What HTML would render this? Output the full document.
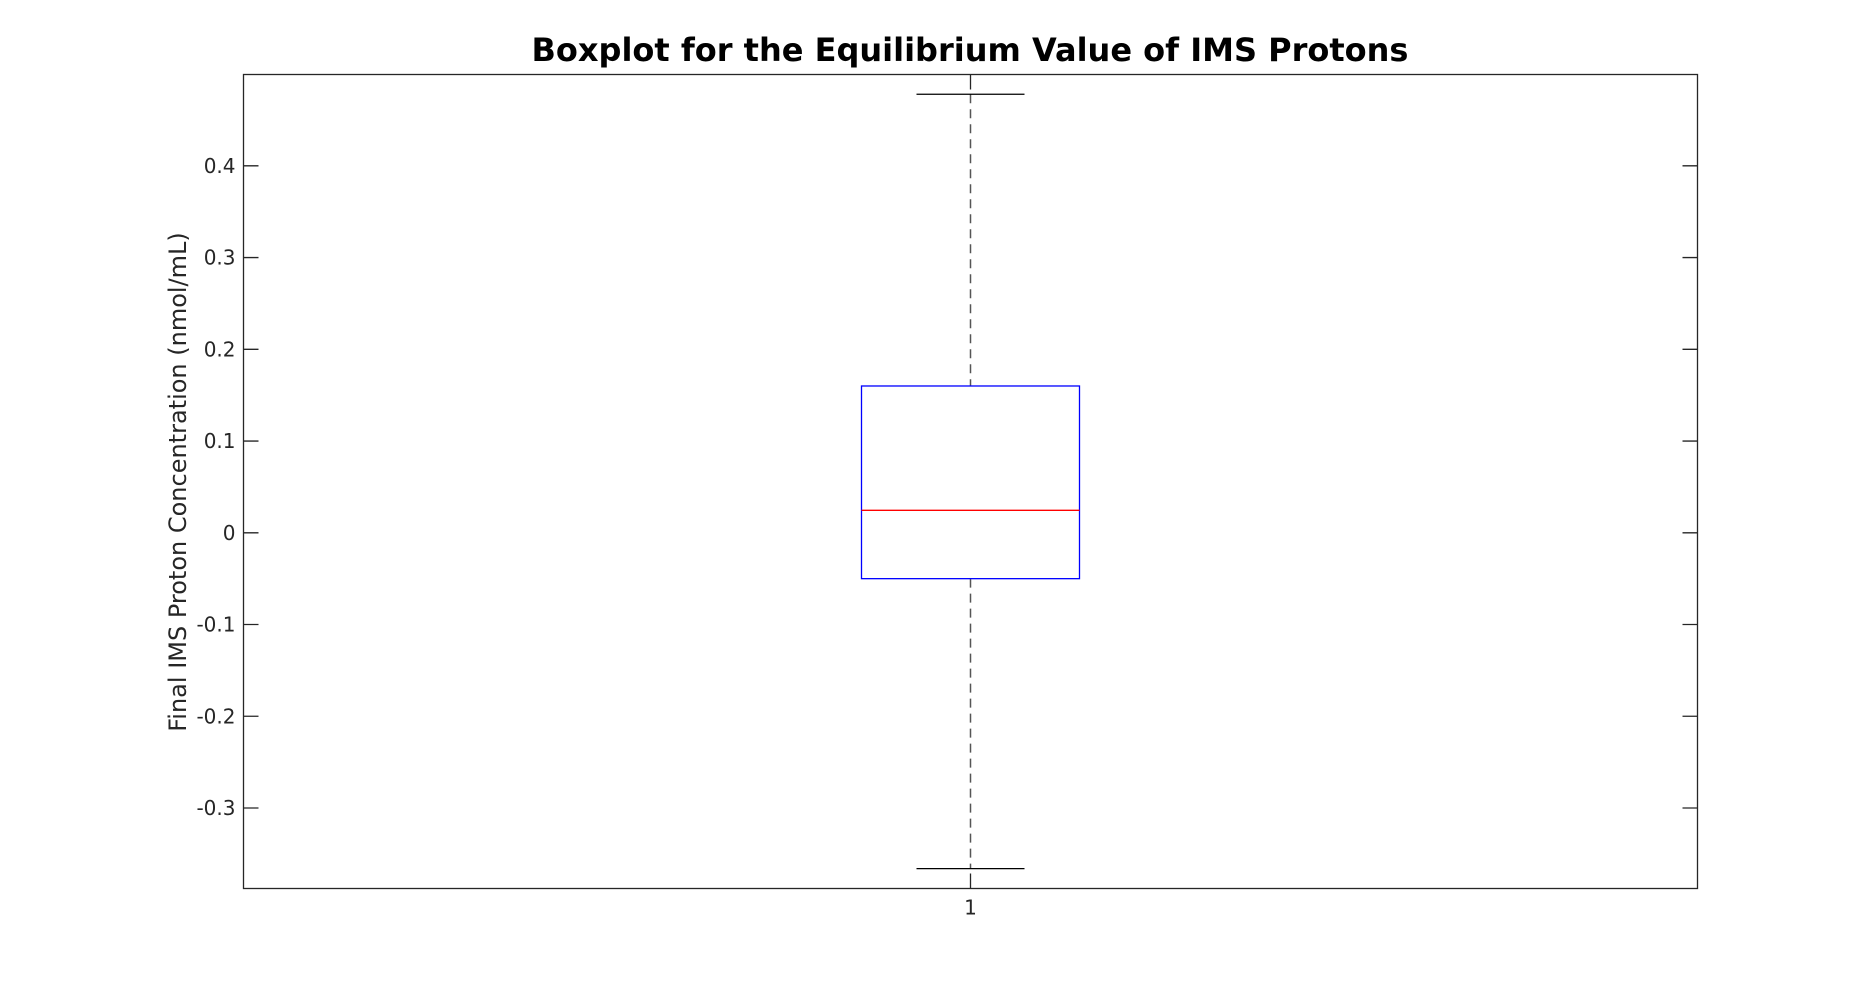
<!DOCTYPE html>
<html><head><meta charset="utf-8"><style>
html,body{margin:0;padding:0;background:#fff;}
svg{display:block;font-family:"DejaVu Sans","Liberation Sans",sans-serif;}
</style></head><body>
<svg id="chart" width="1874" height="998"></svg>
<script>
const categories = ["1"];
const upperWhisker = [0.478];
const q3 = [0.160];
const median = [0.0245];
const q1 = [-0.050];
const lowerWhisker = [-0.366];
const yTicks = [-0.3,-0.2,-0.1,0,0.1,0.2,0.3,0.4];
const yTickLabels = ["-0.3","-0.2","-0.1","0","0.1","0.2","0.3","0.4"];

const L=243.5,R=1697.5,T=74.5,B=888.5;
const yMin=-0.3877,yMax=0.4995;
function y(v){return B-(v-yMin)/(yMax-yMin)*(B-T);}
function x(i){return L+(i+0.5)/categories.length*(R-L);}
const NS="http://www.w3.org/2000/svg";
const svg=document.getElementById('chart');
function add(tag,attrs,text){const e=document.createElementNS(NS,tag);for(const k in attrs)e.setAttribute(k,attrs[k]);if(text!==undefined)e.textContent=text;svg.appendChild(e);return e;}

let t=add('text',{x:970,y:61,'text-anchor':'middle','font-size':32,'font-weight':'bold',fill:'#000'},'Boxplot for the Equilibrium Value of IMS Protons');



let ax=add('rect',{x:L,y:T,width:R-L,height:B-T,fill:'none',stroke:'#262626','stroke-width':1.3});



yTicks.forEach((v,i)=>{
  const yy=y(v);
  let tk=add('path',{d:`M${L} ${yy}H${L+15}M${R} ${yy}H${R-15}`,stroke:'#262626','stroke-width':1.3});
  
  
  let lb=add('text',{x:L-8,y:yy+7,'text-anchor':'end','font-size':20,fill:'#262626'},yTickLabels[i]);
  
  
});

let yl=add('text',{x:0,y:0,transform:'translate(186,482) rotate(-90)','text-anchor':'middle','font-size':24,fill:'#262626'},'Final IMS Proton Concentration (nmol/mL)');



categories.forEach((c,i)=>{
  const cx=x(i),hw=109,cw=54;
  let xt=add('path',{d:`M${cx} ${B}V${B-15}M${cx} ${T}V${T+15}`,stroke:'#262626','stroke-width':1.3});
  
  
  let xl=add('text',{x:cx,y:B+26,'text-anchor':'middle','font-size':20,fill:'#262626'},c);
  
  
  let w=add('path',{d:`M${cx} ${y(upperWhisker[i])}V${y(q3[i])}M${cx} ${y(q1[i])}V${y(lowerWhisker[i])}`,stroke:'#555','stroke-width':1.5,'stroke-dasharray':'9,6',fill:'none'});
  
  
  let caps=add('path',{d:`M${cx-cw} ${y(upperWhisker[i])}H${cx+cw}M${cx-cw} ${y(lowerWhisker[i])}H${cx+cw}`,stroke:'#000','stroke-width':1.3});
  
  
  let box=add('rect',{x:cx-hw,y:y(q3[i]),width:2*hw,height:y(q1[i])-y(q3[i]),fill:'none',stroke:'#0000ff','stroke-width':1.3});
  
  
  let md=add('path',{d:`M${cx-hw} ${y(median[i])}H${cx+hw}`,stroke:'#ff0000','stroke-width':1.3});
  
  
});
</script>
</body></html>
